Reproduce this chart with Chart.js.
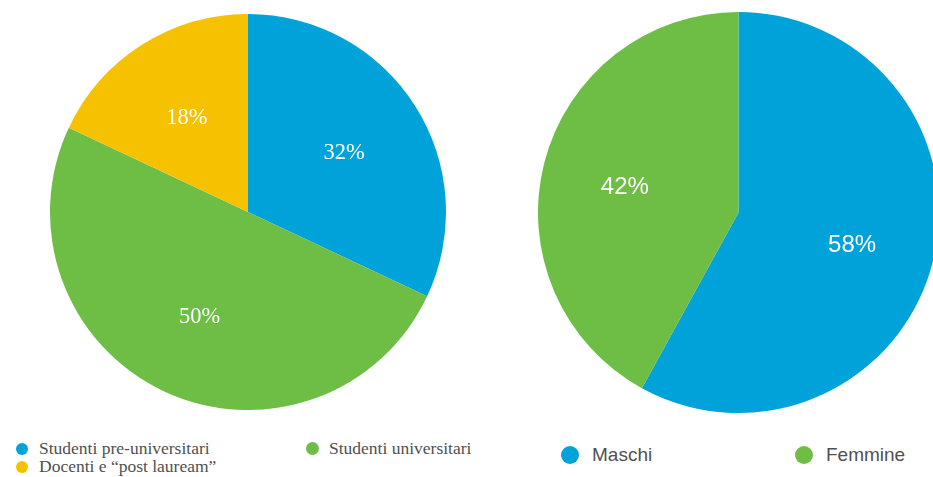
<!DOCTYPE html>
<html>
<head>
<meta charset="utf-8">
<script src="https://cdn.jsdelivr.net/npm/chart.js@4"></script>
<style>
  html, body { margin: 0; padding: 0; background: #fff; width: 933px; height: 477px; overflow: hidden; }
  #wrap { position: relative; width: 933px; height: 477px; overflow: hidden; }
  canvas { position: absolute; }
  #pie-left { left: 50px; top: 14px; }
  #pie-right { left: 538px; top: 12px; }
  .leg { position: absolute; white-space: nowrap; color: #505050; }
  .leg .dot { position: absolute; border-radius: 50%; }
  .serif { font-family: "Liberation Serif", "DejaVu Serif", serif; font-size: 17.5px; }
  .sans { font-family: "Liberation Sans", Arial, sans-serif; font-size: 19px; }
</style>
</head>
<body>
<div id="wrap">
  <canvas id="pie-left" width="396" height="396"></canvas>
  <canvas id="pie-right" width="401" height="401"></canvas>
  <div id="legends"></div>
</div>
<script>
// Left pie: audience type
const roleLabels = ['Studenti pre-universitari', 'Studenti universitari', 'Docenti e \u201Cpost lauream\u201D'];
const roleValues = [32, 50, 18];
const roleColors = ['#00a3d9', '#6ebd45', '#f6c200'];

// Right pie: gender
const genderLabels = ['Maschi', 'Femmine'];
const genderValues = [58, 42];
const genderColors = ['#00a3d9', '#6ebd45'];

// draws "NN%" inside each slice, a bit past half radius
const sliceLabels = {
    id: 'sliceLabels',
    afterDatasetsDraw(chart, args, opts) {
        const ctx = chart.ctx;
        const meta = chart.getDatasetMeta(0);
        const values = chart.data.datasets[0].data;
        ctx.save();
        ctx.fillStyle = '#ffffff';
        ctx.font = opts.font;
        ctx.textAlign = 'center';
        ctx.textBaseline = 'middle';
        meta.data.forEach((arc, i) => {
            const p = arc.getProps(['x', 'y', 'startAngle', 'endAngle', 'outerRadius'], true);
            const mid = (p.startAngle + p.endAngle) / 2;
            const r = p.outerRadius * opts.radius;
            ctx.fillText(values[i] + '%', p.x + Math.cos(mid) * r, p.y + Math.sin(mid) * r + opts.dy);
        });
        ctx.restore();
    },
};

function makePie(id, labels, values, colors, font, radius, dy) {
    return new Chart(document.getElementById(id), {
        type: 'pie',
        data: {
            labels: labels,
            datasets: [{
                data: values,
                backgroundColor: colors,
                borderWidth: 0,
            }],
        },
        options: {
            responsive: false,
            animation: false,
            layout: { padding: 0 },
            plugins: {
                legend: { display: false },
                tooltip: { enabled: false },
                sliceLabels: { font: font, radius: radius, dy: dy },
            },
        },
        plugins: [sliceLabels],
    });
}

makePie('pie-left', roleLabels, roleValues, roleColors, '22.5px "Liberation Serif", serif', 0.575, 2);
makePie('pie-right', genderLabels, genderValues, genderColors, '24px "Liberation Sans", Arial, sans-serif', 0.585, 4);

// HTML legends under each pie
const legendItems = [
    { label: roleLabels[0], color: roleColors[0], cls: 'serif', x: 39, y: 438, dot: 12, dx: -23 },
    { label: roleLabels[1], color: roleColors[1], cls: 'serif', x: 329, y: 438, dot: 13, dx: -23 },
    { label: roleLabels[2], color: roleColors[2], cls: 'serif', x: 39, y: 456, dot: 12, dx: -23 },
    { label: genderLabels[0], color: genderColors[0], cls: 'sans', x: 592, y: 444, dot: 18, dx: -31 },
    { label: genderLabels[1], color: genderColors[1], cls: 'sans', x: 826, y: 444, dot: 18, dx: -31 },
];
const host = document.getElementById('legends');
legendItems.forEach(it => {
    const el = document.createElement('div');
    el.className = 'leg ' + it.cls;
    el.style.left = it.x + 'px';
    el.style.top = it.y + 'px';
    el.textContent = it.label;
    const dot = document.createElement('span');
    dot.className = 'dot';
    dot.style.background = it.color;
    dot.style.width = it.dot + 'px';
    dot.style.height = it.dot + 'px';
    dot.style.left = it.dx + 'px';
    dot.style.top = 'calc(50% - ' + (it.dot / 2) + 'px)';
    el.appendChild(dot);
    host.appendChild(el);
});
</script>
</body>
</html>
